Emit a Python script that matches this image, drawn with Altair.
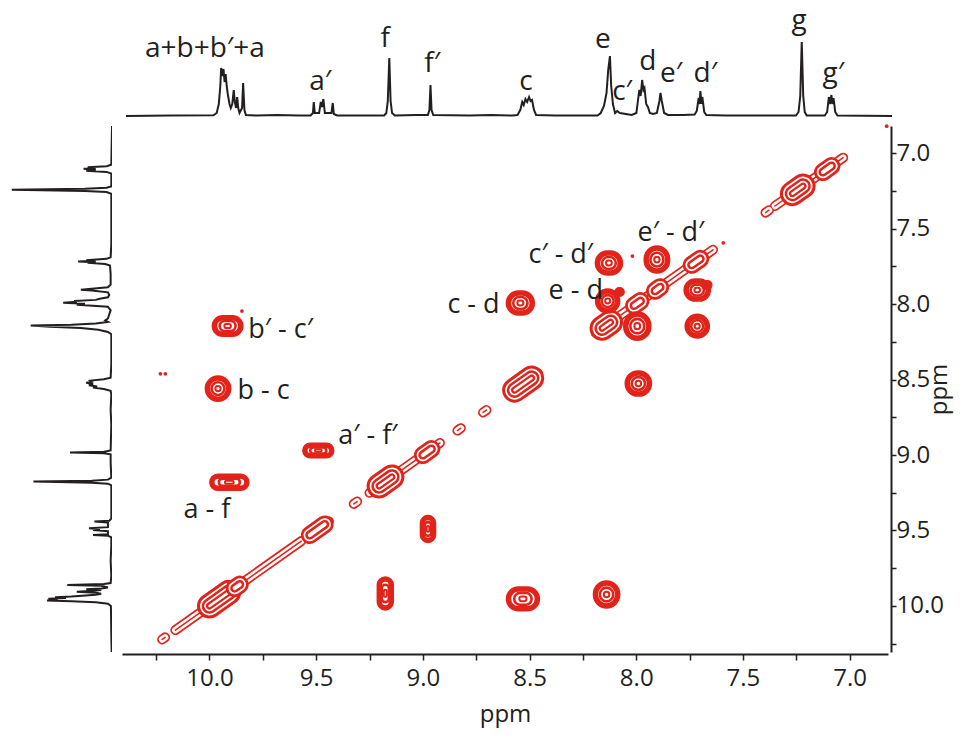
import altair as alt
import pandas as pd

RED = "#e2231a"
INK = "#231f20"
FONT = "Open Sans"

# ---------------------------------------------------------------------------
# 1D 1H trace (used for both projections): vertices in ppm / relative intensity
spec_ppm = [
    10.41, 10.20, 10.00, 9.985, 9.975, 9.968, 9.964, 9.958, 9.953, 9.948, 9.943,
    9.938, 9.933, 9.925, 9.919, 9.912, 9.905, 9.900, 9.894, 9.889, 9.884, 9.878,
    9.866, 9.861, 9.855, 9.848, 9.80, 9.70, 9.60,
    9.545, 9.534, 9.530, 9.525, 9.505, 9.497, 9.491, 9.485, 9.478, 9.447, 9.441,
    9.436, 9.42, 9.30,
    9.20, 9.190, 9.183, 9.176, 9.170, 9.163, 9.15, 9.05,
    8.995, 8.988, 8.983, 8.978, 8.970, 8.80, 8.70, 8.60,
    8.575, 8.562, 8.553, 8.546, 8.538, 8.530, 8.521, 8.514, 8.507, 8.498, 8.488,
    8.40, 8.30, 8.20,
    8.185, 8.170, 8.158, 8.150, 8.142, 8.136, 8.128, 8.118, 8.108, 8.095, 8.040,
    8.018, 8.008, 8.004, 7.998, 7.991, 7.985, 7.980, 7.972, 7.964, 7.955, 7.940,
    7.922, 7.910, 7.905, 7.899, 7.888, 7.87, 7.80,
    7.745, 7.735, 7.726, 7.722, 7.718, 7.713, 7.709, 7.700, 7.690, 7.60, 7.40,
    7.27, 7.258, 7.250, 7.243, 7.236, 7.229, 7.22,
    7.135, 7.124, 7.116, 7.110, 7.104, 7.099, 7.094, 7.086, 7.076, 6.82,
]
spec_int = [
    0, 0.5, 0.8, 3, 12, 30, 48, 40, 47, 34, 42,
    30, 22, 12, 8, 12, 26, 14, 8, 19, 8, 3,
    8, 33, 6, 1, 0.5, 1, 0.5,
    0.5, 3, 14, 3, 3, 14, 9, 17, 3, 3, 13,
    2, 0.5, 0.5,
    0.5, 3, 15, 58, 15, 3, 0.5, 1,
    1, 6, 31, 6, 1, 0.5, 1, 0.5,
    1, 6, 14, 11, 17, 14, 19, 15, 16, 6, 1,
    0.5, 0.5, 0.5,
    3, 10, 23, 46, 60, 30, 12, 3, 5, 3, 1,
    3, 20, 26, 20, 36, 26, 28, 12, 9, 3, 2,
    3, 15, 23, 15, 3, 1, 1,
    1.5, 5, 18, 12, 25, 12, 19, 4, 1, 0.5, 0.5,
    0.5, 4, 20, 74, 20, 4, 0.5,
    0.5, 4, 19, 12, 21, 12, 18, 4, 0.5, 0,
]

# assignments written above the 1D trace (ppm, baseline height of the text)
peak_names = ["a+b+b′+a", "a′", "f", "f′", "c", "e", "c′", "d", "e′", "d′", "g", "g′"]
peak_label_ppm = [10.04, 9.50, 9.195, 8.975, 8.535, 8.175, 8.085, 7.965, 7.855, 7.695, 7.255, 7.095]
peak_label_int = [59, 26, 69, 44, 26, 68, 16, 46, 34, 34, 87, 34]

# ---------------------------------------------------------------------------
# 2D COSY: ridge pieces along the diagonal (start / end ppm)
ridge_from = [10.222, 10.16, 9.83, 9.54, 9.324, 9.25, 8.838, 8.718, 8.59, 8.19, 7.394, 7.35]
ridge_to = [10.208, 9.84, 9.57, 9.44, 9.308, 8.92, 8.822, 8.702, 8.46, 7.64, 7.378, 7.03]

# diagonal peaks: centre, half-length along the diagonal (ppm), contour depth
diag_ppm = [9.955, 9.87, 9.495, 9.175, 8.98, 8.53, 8.14, 7.995, 7.90, 7.72, 7.243, 7.105]
diag_half = [0.045, 0.012, 0.035, 0.03, 0.02, 0.04, 0.02, 0.015, 0.012, 0.02, 0.025, 0.02]
diag_depth = ["strong", "mid", "mid", "strong", "mid", "strong", "strong", "mid", "mid", "mid", "strong", "mid"]

# off-diagonal cross peaks: F2 ppm, F1 ppm, half-width in F2, half-width in F1
cross_x = [9.915, 9.96, 9.49, 9.907, 8.976, 9.176, 8.531, 8.139, 8.128, 7.903, 8.134, 7.995,
           7.714, 7.714, 8.543, 7.99, 8.078, 7.667]
cross_y = [8.145, 8.56, 8.97, 9.18, 9.49, 9.917, 9.953, 9.924, 7.728, 7.705, 7.98, 8.146,
           7.907, 8.146, 7.993, 8.526, 7.92, 7.874]
cross_wx = [0.062, 0.05, 0.063, 0.082, 0.026, 0.028, 0.068, 0.052, 0.054, 0.05, 0.047, 0.054,
            0.052, 0.047, 0.056, 0.052, 0.012, 0.012]
cross_wy = [0.055, 0.07, 0.035, 0.04, 0.076, 0.096, 0.066, 0.076, 0.066, 0.076, 0.066, 0.08,
            0.06, 0.066, 0.066, 0.07, 0.015, 0.015]

# isolated single-level specks
speck_x = [10.23, 10.207, 9.848, 8.018, 7.592, 6.826]
speck_y = [8.462, 8.462, 8.046, 7.682, 7.594, 6.821]

# cross-peak assignments
pair_labels = ["b′ - c′", "b - c", "a′ - f′", "a - f", "c - d", "e - d", "c′ - d′", "e′ - d′"]
pair_x = [9.818, 9.869, 9.396, 10.122, 8.885, 8.411, 8.505, 7.994]
pair_y = [8.225, 8.629, 8.927, 9.417, 8.06, 7.967, 7.728, 7.583]

# axis ticks (every 0.25 ppm, labelled every 0.5 ppm)
tick_values = [10.25, 10.0, 9.75, 9.5, 9.25, 9.0, 8.75, 8.5, 8.25, 8.0, 7.75, 7.5, 7.25, 7.0]

# ---------------------------------------------------------------------------
X_DOMAIN = [6.82, 10.41]
Y_DOMAIN = [6.82, 10.305]
MAIN_W, MAIN_H = 766, 526
SIDE_W, TOP_H = 107, 111

spectrum = pd.DataFrame({"ppm": spec_ppm, "inten": spec_int, "k": list(range(len(spec_ppm)))})
top_labels = pd.DataFrame({"name": peak_names, "ppm": peak_label_ppm, "inten": peak_label_int})

ridge = pd.DataFrame({
    "seg": list(range(len(ridge_from))) * 2,
    "ppm": ridge_from + ridge_to,
})
diag = pd.DataFrame({"c": diag_ppm, "h": diag_half, "depth": diag_depth})
diag_pts = pd.concat([
    pd.DataFrame({"pk": diag.index, "ppm": diag.c - diag.h, "depth": diag.depth}),
    pd.DataFrame({"pk": diag.index, "ppm": diag.c + diag.h, "depth": diag.depth}),
])
cross = pd.DataFrame({"cx": cross_x, "cy": cross_y, "wx": cross_wx, "wy": cross_wy})
specks = pd.DataFrame({"x": speck_x, "y": speck_y})
pairs = pd.DataFrame({"name": pair_labels, "x": pair_x, "y": pair_y})

x_scale = alt.Scale(domain=X_DOMAIN, reverse=True, nice=False, zero=False)
y_scale = alt.Scale(domain=Y_DOMAIN, reverse=True, nice=False, zero=False)
label_expr = "(datum.value * 2) % 1 == 0 ? format(datum.value, '.1f') : ''"

x_axis = alt.Axis(
    values=tick_values, labelExpr=label_expr, title="ppm", orient="bottom",
    tickSize=6, tickWidth=1.5, domainWidth=2, offset=2, labelPadding=6,
    labelFlush=False, labelOverlap=False, grid=False, titlePadding=12,
)
y_axis = alt.Axis(
    values=tick_values, labelExpr=label_expr, title="ppm", orient="right",
    tickSize=5, tickWidth=1.5, domainWidth=2, offset=3, labelPadding=0,
    labelFlush=False, labelOverlap=False, grid=False, titleAngle=270, titlePadding=8,
)


def X(field):
    return alt.X(field, type="quantitative", scale=x_scale, axis=x_axis)


def Y(field):
    return alt.Y(field, type="quantitative", scale=y_scale, axis=y_axis)


layers = []

# diagonal ridge: outer contour, gap, inner contour
for width, colour in [(10, RED), (6.5, "white"), (1.5, RED)]:
    layers.append(
        alt.Chart(ridge).mark_line(color=colour, strokeWidth=width, strokeCap="round")
        .encode(x=X("ppm"), y=Y("ppm"), detail="seg:N")
    )

# diagonal peaks as nested contour rings
ring_sets = {
    "strong": [(25, RED), (19, "white"), (15.5, RED), (10.5, "white"), (7, RED), (2.5, "white")],
    "mid": [(18, RED), (12.5, "white"), (9, RED), (4, "white")],
}
for depth, rings in ring_sets.items():
    for width, colour in rings:
        layers.append(
            alt.Chart(diag_pts).transform_filter(alt.datum.depth == depth)
            .mark_line(color=colour, strokeWidth=width, strokeCap="round")
            .encode(x=X("ppm"), y=Y("ppm"), detail="pk:N")
        )

# cross peaks: three contour levels each
for frac, width in [(1.0, 5.5), (0.6, 2.6), (0.25, 2.0)]:
    layers.append(
        alt.Chart(cross)
        .transform_calculate(
            x1=f"datum.cx - {frac} * datum.wx", x2=f"datum.cx + {frac} * datum.wx",
            y1=f"datum.cy - {frac} * datum.wy", y2=f"datum.cy + {frac} * datum.wy",
        )
        .mark_rect(filled=False, color=RED, strokeWidth=width, cornerRadius=80)
        .encode(x=X("x1"), x2="x2:Q", y=Y("y1"), y2="y2:Q")
    )

layers.append(
    alt.Chart(specks).mark_point(filled=True, color=RED, size=14, opacity=1)
    .encode(x=X("x"), y=Y("y"))
)

layers.append(
    alt.Chart(pairs).mark_text(align="left", baseline="alphabetic", fontSize=27, font=FONT, color=INK)
    .encode(x=X("x"), y=Y("y"), text="name:N")
)

main = alt.layer(*layers).properties(width=MAIN_W, height=MAIN_H)

# 1D projection on top
top_line = alt.Chart(spectrum).mark_line(color=INK, strokeWidth=2).encode(
    x=alt.X("ppm:Q", scale=x_scale, axis=None),
    y=alt.Y("inten:Q", scale=alt.Scale(domain=[0, TOP_H], nice=False, zero=False), axis=None),
    order="k:Q",
)
top_text = alt.Chart(top_labels).mark_text(
    align="center", baseline="alphabetic", fontSize=28, font=FONT, color=INK
).encode(
    x=alt.X("ppm:Q", scale=x_scale, axis=None),
    y=alt.Y("inten:Q", scale=alt.Scale(domain=[0, TOP_H], nice=False, zero=False), axis=None),
    text="name:N",
)
top = alt.layer(top_line, top_text).properties(width=MAIN_W, height=TOP_H)

# 1D projection on the left (intensity grows leftwards)
side = alt.Chart(spectrum).mark_line(color=INK, strokeWidth=2, clip=True).encode(
    x=alt.X("inten:Q", scale=alt.Scale(domain=[0, 79], reverse=True, nice=False, zero=False), axis=None),
    y=alt.Y("ppm:Q", scale=y_scale, axis=None),
    order="k:Q",
).properties(width=SIDE_W, height=MAIN_H)

corner = alt.Chart(pd.DataFrame({"v": [0]})).mark_point(opacity=0).properties(width=SIDE_W, height=TOP_H)

chart = alt.vconcat(
    alt.hconcat(corner, top, spacing=10),
    alt.hconcat(side, main, spacing=10),
    spacing=4,
).configure_view(strokeOpacity=0).configure_axis(
    labelFont=FONT, titleFont=FONT, labelFontSize=24, titleFontSize=24,
    labelColor=INK, titleColor=INK, domainColor=INK, tickColor=INK,
    labelFontWeight="normal", titleFontWeight="normal",
)

chart.save("out.html", embed_options={"renderer": "svg", "actions": False})
